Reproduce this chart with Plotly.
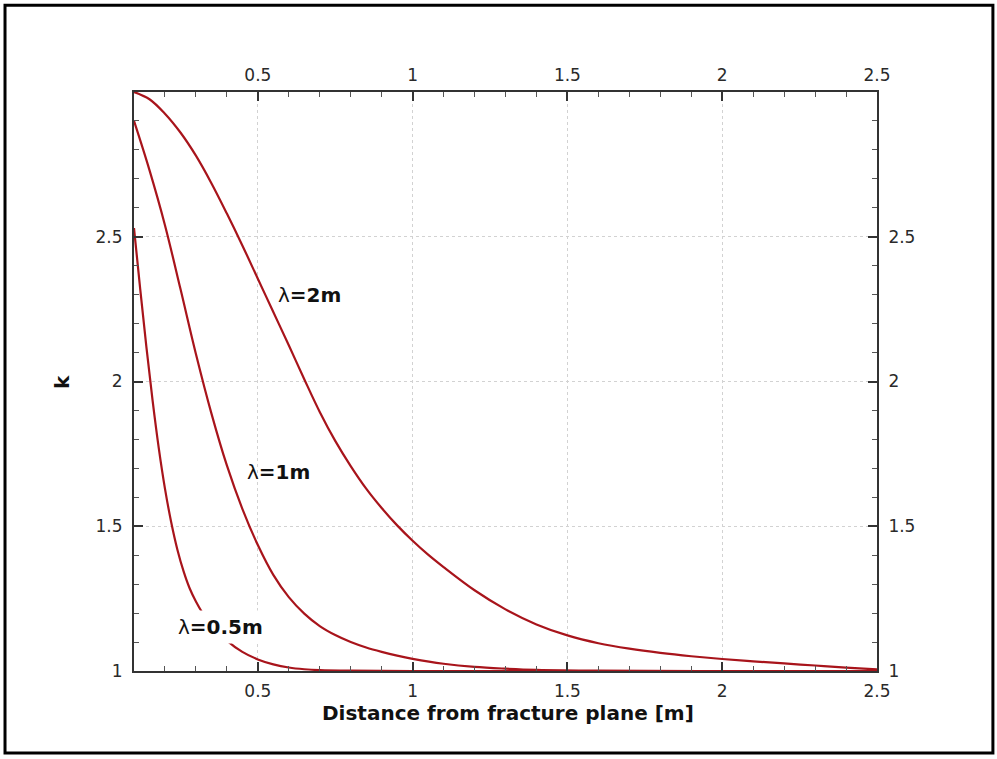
import plotly.graph_objects as go

# Decay of k with distance from the fracture plane, for three length scales
dist_2m = [0.10, 0.15, 0.20, 0.25, 0.30, 0.35, 0.40, 0.45, 0.50, 0.55, 0.60,
           0.65, 0.70, 0.75, 0.80, 0.85, 0.90, 0.95, 1.00, 1.05, 1.1, 1.2, 1.3,
           1.4, 1.5, 1.6, 1.7, 1.8, 1.9, 2.0, 2.1, 2.2, 2.3, 2.4, 2.5]
k_2m = [3.000, 2.975, 2.925, 2.860, 2.780, 2.685, 2.580, 2.470, 2.355, 2.240,
        2.125, 2.008, 1.895, 1.795, 1.708, 1.630, 1.563, 1.503, 1.450, 1.402,
        1.359, 1.279, 1.213, 1.161, 1.123, 1.096, 1.077, 1.0625, 1.051, 1.0415,
        1.0335, 1.026, 1.019, 1.012, 1.0055]

dist_1m = [0.10, 0.15, 0.20, 0.25, 0.30, 0.35, 0.40, 0.45, 0.50, 0.55, 0.60,
           0.65, 0.70, 0.75, 0.80, 0.85, 0.90, 0.95, 1.00, 1.10, 1.20, 1.30,
           1.40, 1.60, 2.00, 2.50]
k_1m = [2.900, 2.730, 2.540, 2.320, 2.095, 1.890, 1.710, 1.560, 1.435, 1.332,
        1.255, 1.198, 1.155, 1.124, 1.100, 1.081, 1.066, 1.053, 1.042, 1.025,
        1.014, 1.008, 1.004, 1.001, 1.000, 1.000]

dist_05m = [0.10, 0.12, 0.14, 0.16, 0.18, 0.20, 0.22, 0.24, 0.26, 0.28, 0.30,
            0.32, 0.35, 0.40, 0.45, 0.50, 0.55, 0.60, 0.65, 0.70, 0.80, 1.00,
            1.50, 2.00, 2.50]
k_05m = [2.530, 2.320, 2.120, 1.935, 1.770, 1.630, 1.515, 1.420, 1.345, 1.285,
         1.240, 1.203, 1.160, 1.105, 1.066, 1.040, 1.023, 1.012, 1.006, 1.003,
         1.001, 1.000, 1.000, 1.000, 1.000]

x_ticks = [0.5, 1.0, 1.5, 2.0, 2.5]
x_tick_text = ["0.5", "1", "1.5", "2", "2.5"]
y_ticks = [1.0, 1.5, 2.0, 2.5]
y_tick_text = ["1", "1.5", "2", "2.5"]
x_minor = [round(0.1 * i, 1) for i in range(1, 26)]
y_minor = [round(1 + 0.1 * i, 1) for i in range(0, 21)]

x_title = "Distance from fracture plane [m]"
y_title = "k"

LINE = "#a8141b"
AXIS = "#333333"
TICK_FONT = dict(family="DejaVu Sans", size=17, color="#2a2a2a")
LABEL_FONT = dict(family="DejaVu Sans", size=20, color="#111111")
CURVE = dict(color=LINE, width=2.2, shape="spline", smoothing=1.0)

fig = go.Figure()
fig.add_trace(go.Scatter(x=dist_05m, y=k_05m, mode="lines", line=CURVE,
                         hoverinfo="skip"))
fig.add_trace(go.Scatter(x=dist_1m, y=k_1m, mode="lines", line=CURVE,
                         hoverinfo="skip"))
# drawn on the mirrored axes so the top/right scales are rendered
fig.add_trace(go.Scatter(x=dist_2m, y=k_2m, mode="lines", xaxis="x2", yaxis="y2",
                         line=CURVE, hoverinfo="skip"))

common = dict(showline=True, linewidth=2, linecolor=AXIS, ticks="inside",
              ticklen=9, tickwidth=2, tickcolor=AXIS, tickfont=TICK_FONT,
              zeroline=False)
minor_x = dict(tickvals=x_minor, ticks="inside", ticklen=5, tickwidth=1,
               tickcolor="#555555", showgrid=False)
minor_y = dict(tickvals=y_minor, ticks="inside", ticklen=5, tickwidth=1,
               tickcolor="#555555", showgrid=False)

fig.update_layout(
    width=997, height=759,
    margin=dict(l=134, r=120, t=92, b=88),
    paper_bgcolor="white", plot_bgcolor="white",
    showlegend=False,
    xaxis=dict(range=[0.1, 2.5], tickmode="array", tickvals=x_ticks,
               ticktext=x_tick_text, showgrid=True, gridcolor="#d2d2d2",
               griddash="dot", gridwidth=1, minor=minor_x,
               ticklabelstandoff=4, **common),
    xaxis2=dict(range=[0.1, 2.5], overlaying="x", side="top", anchor="y",
                tickmode="array", tickvals=x_ticks, ticktext=x_tick_text,
                showgrid=False, minor=minor_x, ticklabelstandoff=2, **common),
    yaxis=dict(range=[1, 3], tickmode="array", tickvals=y_ticks,
               ticktext=y_tick_text, showgrid=True, gridcolor="#d2d2d2",
               griddash="dot", gridwidth=1, minor=minor_y,
               ticklabelstandoff=6, **common),
    yaxis2=dict(range=[1, 3], overlaying="y", side="right", anchor="x",
                tickmode="array", tickvals=y_ticks, ticktext=y_tick_text,
                showgrid=False, minor=minor_y, ticklabelstandoff=6, **common),
)

# axis titles
fig.add_annotation(text="<b>" + x_title + "</b>", xref="paper", yref="paper",
                   x=0.5027, y=-0.0725, xanchor="center", yanchor="middle",
                   showarrow=False, font=LABEL_FONT)
fig.add_annotation(text="<b>" + y_title + "</b>", xref="paper", yref="paper",
                   x=-0.0969, y=0.499, xanchor="center", yanchor="middle",
                   textangle=-90, showarrow=False, font=LABEL_FONT)

# curve labels
curve_labels = [("λ<b>=2m</b>", 0.668, 2.299, None),
                ("λ<b>=1m</b>", 0.568, 1.687, None),
                ("λ<b>=0.5m</b>", 0.378, 1.152, "white")]
for txt, lx, ly, bg in curve_labels:
    fig.add_annotation(text=txt, x=lx, y=ly, xref="x", yref="y",
                       xanchor="center", yanchor="middle", showarrow=False,
                       font=dict(family="DejaVu Sans", size=20, color="#111111"),
                       bgcolor=bg, borderpad=4)

# outer frame around the whole figure
fig.add_shape(type="rect", xref="paper", yref="paper",
              x0=-0.1736, x1=1.156, y0=-0.1416, y1=1.150,
              line=dict(color="black", width=3), layer="above")

fig.write_html("out.html")
